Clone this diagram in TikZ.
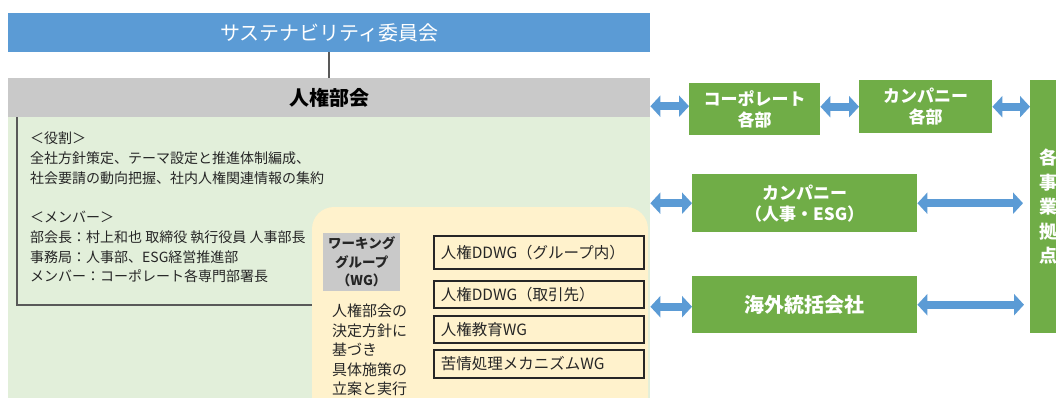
\documentclass[tikz,border=0pt]{standalone}
\usepackage{fontspec}
\setmainfont{Noto Sans CJK JP}
\usetikzlibrary{arrows.meta}
\definecolor{barblue}{HTML}{5B9BD5}
\definecolor{bargray}{HTML}{C9C9C9}
\definecolor{lgreen}{HTML}{E2EFDA}
\definecolor{lyellow}{HTML}{FFF2CC}
\definecolor{dgreen}{HTML}{70AD47}
\definecolor{txt}{HTML}{262626}
\definecolor{linegray}{HTML}{595959}
\begin{document}
\begin{tikzpicture}[x=1pt,y=-1pt,
  box/.style={anchor=north west, inner sep=0pt, align=center},
  gbox/.style={box, fill=dgreen, text=white, font=\bfseries\fontsize{17}{21}\selectfont},
  wgbox/.style={anchor=north west, inner sep=0pt, draw=txt, line width=1.6pt, fill=lyellow, text=txt,
     font=\fontsize{15.5}{18}\selectfont},
  barrow/.style={draw=barblue, line width=8pt, {Triangle[width=21pt,length=10pt]}-{Triangle[width=21pt,length=10pt]}}
]
\clip (0,0) rectangle (1056,397);
\fill[white] (0,0) rectangle (1056,397);
% light green region
\fill[lgreen] (8,117) rectangle (650,400);
% inner outline
\coordinate (olt) at (17,117);
\coordinate (olb) at (17,305);
\coordinate (olr) at (320,305);
\draw[linegray, line width=1.5pt] (olt) -- (olb) -- (olr);
% yellow region
\fill[lyellow, rounded corners=22pt] (312,207) rectangle (648,430);
% top bars
\node[box, fill=barblue, text=white, minimum width=642pt, minimum height=39pt,
      font=\fontsize{20}{23}\selectfont] (sus) at (8,13) {サステナビリティ委員会};
\node[box, fill=bargray, text=black, minimum width=642pt, minimum height=39pt,
      font=\bfseries\fontsize{20}{23}\selectfont] (hr) at (8,78) {人権部会};
\draw[linegray, line width=2pt] (sus.south) -- (hr.north);
% left text
\node[anchor=north west, inner sep=0pt, align=left, text=txt,
      font=\fontsize{14}{19.7}\selectfont] (role) at (30,132)
  {＜役割＞\\全社方針策定、テーマ設定と推進体制編成、\\社会要請の動向把握、社内人権関連情報の集約\\[19.7pt]
   ＜メンバー＞\\部会長：村上和也 取締役 執行役員 人事部長\\事務局：人事部、ESG経営推進部\\メンバー：コーポレート各専門部署長};
% WG
\node[box, fill=bargray, text=txt, minimum width=77pt, minimum height=58pt,
      font=\bfseries\fontsize{13.5}{18.5}\selectfont] (wg) at (323,233) {ワーキング\\グループ\\（WG）};
\node[anchor=north west, inner sep=0pt, align=left, text=txt,
      font=\fontsize{15}{19.5}\selectfont] (wgdesc) at (332,304)
  {人権部会の\\決定方針に\\基づき\\具体施策の\\立案と実行};
\node[wgbox, minimum width=210pt, minimum height=33pt, text width=196pt, align=left, inner xsep=7pt] (wg1) at (433,235) {人権DDWG（グループ内）};
\node[wgbox, minimum width=210pt, minimum height=27pt, text width=196pt, align=left, inner xsep=7pt] (wg2) at (433,280) {人権DDWG（取引先）};
\node[wgbox, minimum width=210pt, minimum height=27pt, text width=196pt, align=left, inner xsep=7pt] (wg3) at (433,315) {人権教育WG};
\node[wgbox, minimum width=210pt, minimum height=28pt, text width=196pt, align=left, inner xsep=7pt] (wg4) at (433,349) {苦情処理メカニズムWG};
% green boxes
\node[gbox, minimum width=131pt, minimum height=52pt] (corp) at (689,83) {コーポレート\\各部};
\node[gbox, minimum width=133pt, minimum height=53pt] (comp) at (859,80) {カンパニー\\各部};
\node[gbox, minimum width=225pt, minimum height=58pt] (cesg) at (692,174) {カンパニー\\（人事・ESG）};
\node[gbox, minimum width=225pt, minimum height=57pt, font=\bfseries\fontsize{20}{23}\selectfont] (ovs) at (692,276) {海外統括会社};
\node[gbox, minimum width=36pt, minimum height=253pt, font=\bfseries\fontsize{18}{24.5}\selectfont] (site) at (1030,80) {各\\事\\業\\拠\\点};
% arrows
\draw[barrow] ([yshift=3pt]corp.west -| hr.east) -- ([yshift=3pt]corp.west);
\draw[barrow] (corp.east |- comp.west) -- (comp.west);
\draw[barrow] (comp.east) -- (comp.east -| site.west);
\draw[barrow] (cesg.west -| hr.east) -- (cesg.west);
\draw[barrow] (cesg.east) -- ([xshift=-7pt]cesg.east -| site.west);
\draw[barrow] ([yshift=-2pt]ovs.west -| hr.east) -- ([yshift=-2pt]ovs.west);
\draw[barrow] (ovs.east) -- ([xshift=-6pt]ovs.east -| site.west);
\end{tikzpicture}
\end{document}
